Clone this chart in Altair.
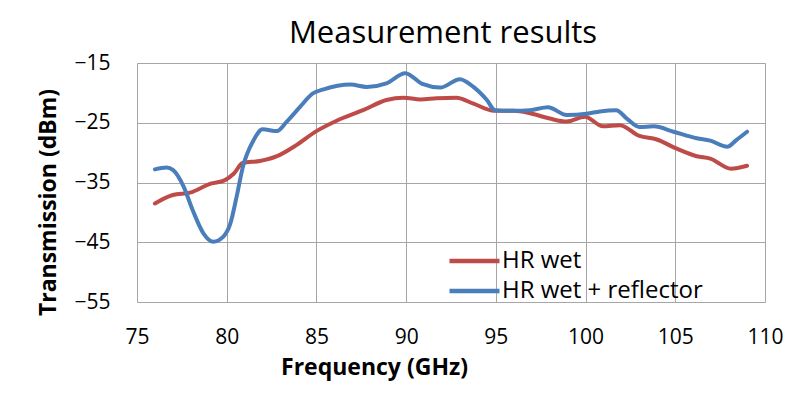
import altair as alt
import pandas as pd

chart_title = "Measurement results"
series_names = ["HR wet", "HR wet + reflector"]
series_colors = ["#BE4B48", "#4A7EBB"]

red_freq = [76.0, 77.0, 77.95, 79.1, 79.9, 80.4, 80.9, 81.85, 82.8, 83.9, 85.0, 86.1,
            87.6, 88.9, 89.85, 90.8, 91.7, 92.8, 93.75, 94.9, 96.0, 96.9, 98.0, 98.95,
            99.96, 100.97, 101.9, 103.0, 103.97, 105.05, 106.2, 106.95, 108.1, 109.0]
red_db = [-38.5, -37.1, -36.7, -35.2, -34.6, -33.5, -31.7, -31.4, -30.6, -28.7, -26.4, -24.7,
          -22.9, -21.2, -20.8, -21.1, -20.9, -20.8, -21.8, -23.0, -23.0, -23.4, -24.3, -24.8,
          -24.0, -25.6, -25.4, -27.2, -27.8, -29.3, -30.6, -31.0, -32.7, -32.2]

blue_freq = [76.0, 76.65, 77.0, 77.6, 78.1, 78.7, 79.25, 79.8, 80.2, 80.55, 80.9, 81.5,
             82.0, 82.8, 83.35, 84.1, 84.8, 85.4, 86.9, 87.8, 88.9, 89.95, 90.9, 91.9,
             93.0, 93.75, 94.5, 94.95, 96.0, 96.9, 97.9, 98.95, 100.06, 100.8, 101.7, 102.3,
             103.0, 103.8, 104.9, 106.2, 106.95, 107.9, 108.4, 109.0]
blue_db = [-32.8, -32.5, -32.9, -35.7, -39.6, -43.5, -44.9, -44.1, -41.9, -37.4, -32.4, -27.9,
           -26.1, -26.4, -24.8, -22.3, -20.1, -19.4, -18.6, -19.0, -18.4, -16.7, -18.5, -19.1,
           -17.7, -19.0, -21.2, -22.9, -23.0, -22.9, -22.4, -23.7, -23.5, -23.1, -22.9, -24.3,
           -25.7, -25.6, -26.5, -27.6, -28.0, -29.0, -27.9, -26.5]

x_ticks = [75, 80, 85, 90, 95, 100, 105, 110]
y_ticks = [-55, -45, -35, -25, -15]

df = pd.concat([
    pd.DataFrame({"freq": red_freq, "db": red_db, "series": series_names[0]}),
    pd.DataFrame({"freq": blue_freq, "db": blue_db, "series": series_names[1]}),
], ignore_index=True)

FONT = "Open Sans"
GRID = "#A6A6A6"

lines = alt.Chart(df).mark_line(
    interpolate="monotone", strokeWidth=4, strokeCap="round", strokeJoin="round"
).encode(
    x=alt.X(
        "freq:Q",
        scale=alt.Scale(domain=[75, 110], nice=False, zero=False),
        axis=alt.Axis(
            values=x_ticks, title="Frequency (GHz)", ticks=False, domain=False,
            labelFontSize=21, labelFont=FONT, labelColor="black", labelPadding=24,
            labelFlush=False, grid=True, gridColor=GRID, gridWidth=1,
            titleFont=FONT, titleFontSize=23, titleFontWeight="bold", titleColor="black",
            titleX=237, titleY=72, titleAlign="center", titleBaseline="alphabetic",
        ),
    ),
    y=alt.Y(
        "db:Q",
        scale=alt.Scale(domain=[-55, -15], nice=False, zero=False),
        axis=alt.Axis(
            values=y_ticks, title="Transmission (dBm)", ticks=False, domain=False,
            labelFontSize=21, labelFont=FONT, labelColor="black", labelPadding=27,
            labelFlush=False, grid=True, gridColor=GRID, gridWidth=1,
            titleFont=FONT, titleFontSize=23, titleFontWeight="bold", titleColor="black",
            titleX=-89, titleY=139, titleAlign="center", titleBaseline="middle", titleAngle=270,
        ),
    ),
    color=alt.Color(
        "series:N",
        scale=alt.Scale(domain=series_names, range=series_colors),
        title=None,
        legend=alt.Legend(
            orient="none", legendX=310, legendY=183, symbolType="stroke",
            symbolSize=2500, symbolStrokeWidth=4.5, labelFontSize=24, labelFont=FONT,
            labelColor="black", labelOffset=0, rowPadding=0, clipHeight=30,
            padding=0, labelLimit=400,
        ),
    ),
)

title_text = alt.Chart(pd.DataFrame({"t": [chart_title]})).mark_text(
    font=FONT, fontSize=31, color="black", align="center", baseline="alphabetic"
).encode(
    text="t:N",
    x=alt.value(306),
    y=alt.value(-20),
)

chart = alt.layer(lines, title_text).properties(
    width=628,
    height=239,
    autosize=alt.AutoSizeParams(type="none"),
    padding={"left": 129, "top": 55, "right": 20, "bottom": 84},
).configure_view(
    stroke=GRID, strokeWidth=1
).configure(background="white")

chart.save("out.html", embed_options={"renderer": "svg", "actions": False})
